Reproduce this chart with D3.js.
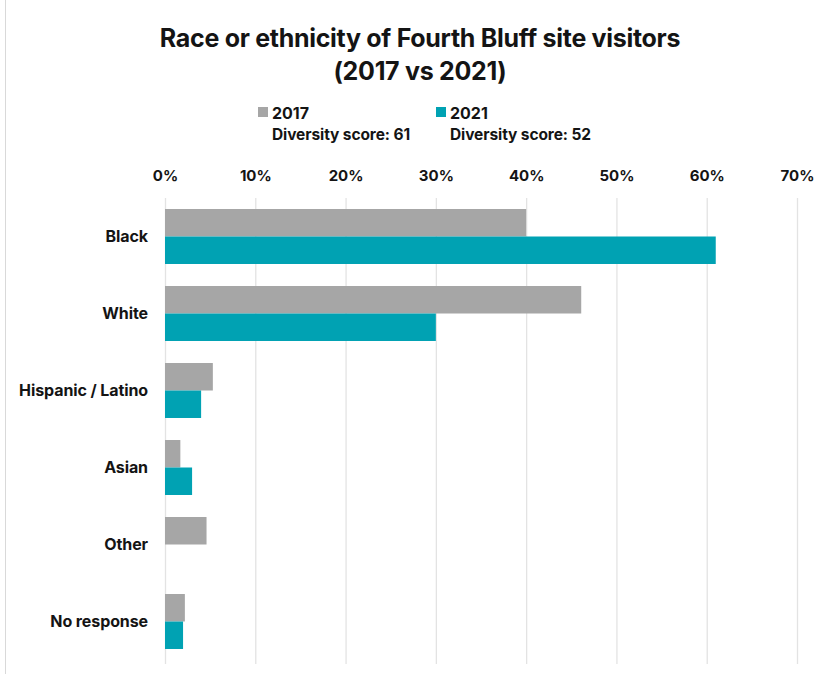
<!DOCTYPE html>
<html>
<head>
<meta charset="utf-8">
<script src="https://cdn.jsdelivr.net/npm/d3@7"></script>
<style>
  html, body { margin: 0; padding: 0; background: #fff; }
  svg { display: block; font-family: Inter, "Noto Sans", sans-serif; }
</style>
</head>
<body>
<svg id="chart" width="825" height="674"></svg>
<script>
// Survey shares (%) by race or ethnicity
const categories = ["Black", "White", "Hispanic / Latino", "Asian", "Other", "No response"];
const years = ["2017", "2021"];
const values2017 = [40, 46.1, 5.3, 1.7, 4.6, 2.2];
const values2021 = [61, 30, 4.0, 3.0, null, 2.0];
const diversityScores = [61, 52];
const tickValues = [0, 10, 20, 30, 40, 50, 60, 70];
const colors = ["#a6a6a6", "#00a2b3"];

const svg = d3.select("#chart");
const textColor = "#141414";

// Thin frame line on the left edge
svg.append("line")
  .attr("x1", 5.5).attr("x2", 5.5).attr("y1", 0).attr("y2", 674)
  .attr("stroke", "#d9d9d9").attr("stroke-width", 1);

// Title
const title = svg.append("text")
  .attr("x", 420).attr("text-anchor", "middle")
  .attr("fill", textColor).attr("font-weight", 700).attr("font-size", 25)
  .attr("letter-spacing", -0.3);
title.append("tspan").attr("x", 420).attr("y", 47).text("Race or ethnicity of Fourth Bluff site visitors");
title.append("tspan").attr("x", 420).attr("y", 80).text("(2017 vs 2021)");

// Scales
const x = d3.scaleLinear().domain([0, 70]).range([165, 797]);
const y = d3.scaleBand().domain(categories).range([198, 660])
  .paddingInner(0.286).paddingOuter(0.143);
const ySub = d3.scaleBand().domain(years).range([0, y.bandwidth()]);

// Gridlines
svg.append("g").selectAll("line").data(tickValues).join("line")
  .attr("x1", d => x(d) + 0.5).attr("x2", d => x(d) + 0.5)
  .attr("y1", 198).attr("y2", 664)
  .attr("stroke", "#e3e3e3").attr("stroke-width", 1.3);

// Top axis
const xAxis = d3.axisTop(x).tickValues(tickValues).tickFormat(d => d + "%").tickSize(0).tickPadding(0);
const gx = svg.append("g").attr("transform", "translate(0,181)").call(xAxis);
gx.select(".domain").remove();
gx.selectAll("text")
  .attr("fill", textColor).attr("font-size", 15).attr("font-weight", 700)
  .attr("font-family", "Inter, sans-serif").attr("dy", 0);

// Category axis
const yAxis = d3.axisLeft(y).tickSize(0).tickPadding(0);
const gy = svg.append("g").attr("transform", "translate(148,0)").call(yAxis);
gy.select(".domain").remove();
gy.selectAll("text")
  .attr("fill", textColor).attr("font-size", 16).attr("font-weight", 700)
  .attr("font-family", "Inter, sans-serif").attr("letter-spacing", -0.1);

// Bars
const series = [values2017, values2021];
years.forEach((yr, i) => {
  const rows = categories.map((c, j) => ({ c, v: series[i][j] })).filter(d => d.v != null);
  svg.append("g").selectAll("rect").data(rows).join("rect")
    .attr("x", x(0))
    .attr("y", d => y(d.c) + ySub(yr))
    .attr("width", d => x(d.v) - x(0))
    .attr("height", ySub.bandwidth())
    .attr("fill", colors[i]);
});

// Legend
const legendX = [258, 436];
years.forEach((yr, i) => {
  const g = svg.append("g").attr("transform", `translate(${legendX[i]},0)`);
  g.append("rect").attr("x", 0).attr("y", 107).attr("width", 10).attr("height", 10).attr("fill", colors[i]);
  g.append("text").attr("x", 14).attr("y", 119)
    .attr("fill", textColor).attr("font-size", 16).attr("font-weight", 700).text(yr);
  g.append("text").attr("x", 14).attr("y", 140)
    .attr("fill", textColor).attr("font-size", 15.5).attr("font-weight", 700)
    .attr("letter-spacing", -0.1)
    .text("Diversity score: " + diversityScores[i]);
});
</script>
</body>
</html>
